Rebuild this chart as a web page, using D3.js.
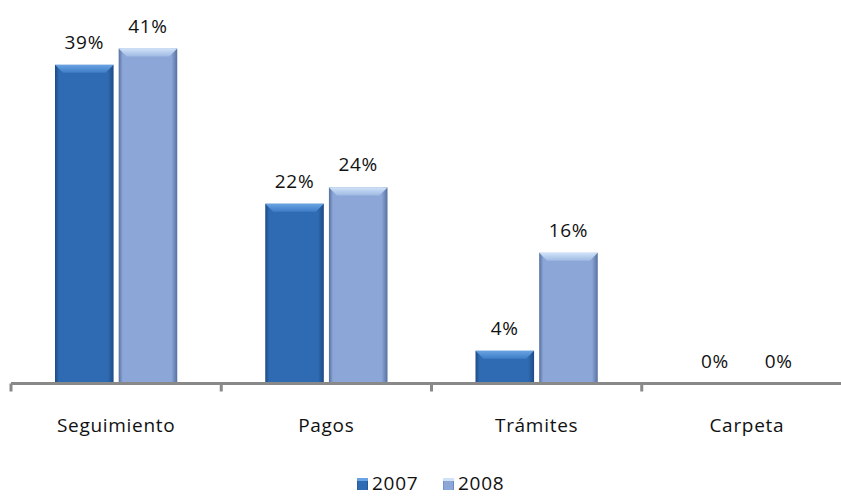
<!DOCTYPE html>
<html>
<head>
<meta charset="utf-8">
<script src="https://cdn.jsdelivr.net/npm/d3@7"></script>
<style>
  body { margin: 0; background: #fff; overflow: hidden; }
  svg text { font-family: "Open Sans", "DejaVu Sans", sans-serif; fill: #111; letter-spacing: 0.7px; }
</style>
</head>
<body>
<svg id="chart"></svg>
<script>
// chart data
const categories = ["Seguimiento", "Pagos", "Trámites", "Carpeta"];
const years = ["2007", "2008"];
const values2007 = [39, 22, 4, 0];
const values2008 = [41, 24, 16, 0];

const width = 841, height = 496;
const axisY = 383.5;

const svg = d3.select("#chart")
    .attr("width", width)
    .attr("height", height);

// gradients for the bevelled bars
const defs = svg.append("defs");
const palettes = {
    "2007": { edge: "#1d4a86", mid: "#2f6bb2", top: "#6aa3e3", topEdge: "#3d7cc6" },
    "2008": { edge: "#56719f", mid: "#8ca6d8", top: "#cfe2f8", topEdge: "#9fb9e2" }
};
years.forEach(yr => {
    const p = palettes[yr];
    const g = defs.append("linearGradient").attr("id", "body" + yr)
        .attr("x1", 0).attr("x2", 1).attr("y1", 0).attr("y2", 0);
    g.append("stop").attr("offset", "0%").attr("stop-color", p.edge);
    g.append("stop").attr("offset", "7%").attr("stop-color", p.mid);
    g.append("stop").attr("offset", "90%").attr("stop-color", p.mid);
    g.append("stop").attr("offset", "100%").attr("stop-color", p.edge);
    const t = defs.append("linearGradient").attr("id", "top" + yr)
        .attr("x1", 0).attr("x2", 0).attr("y1", 0).attr("y2", 1);
    t.append("stop").attr("offset", "0%").attr("stop-color", p.top);
    t.append("stop").attr("offset", "100%").attr("stop-color", p.topEdge);
});

// scales
const x0 = d3.scaleBand()
    .domain(categories)
    .range([11, 852])
    .paddingInner(0)
    .paddingOuter(0);

const x1 = d3.scaleBand()
    .domain(years)
    .range([44, x0.bandwidth() - 44])
    .paddingInner(0.08);

const y = d3.scaleLinear()
    .domain([0, 45])
    .range([axisY, axisY - 45 * 8.17]);

// bar data
const bars = [];
categories.forEach((c, i) => {
    bars.push({ cat: c, year: "2007", value: values2007[i] });
    bars.push({ cat: c, year: "2008", value: values2008[i] });
});

const groups = svg.selectAll(".bar")
    .data(bars)
    .enter()
    .append("g")
    .attr("class", "bar");

// bar bodies
groups.filter(d => d.value > 0)
    .append("rect")
    .attr("x", d => x0(d.cat) + x1(d.year))
    .attr("y", d => y(d.value))
    .attr("width", x1.bandwidth())
    .attr("height", d => axisY - y(d.value))
    .attr("fill", d => "url(#body" + d.year + ")");

// top bevel
groups.filter(d => d.value > 0)
    .append("path")
    .attr("d", d => {
        const bx = x0(d.cat) + x1(d.year), by = y(d.value), bw = x1.bandwidth();
        const bev = Math.min(8, (axisY - by) / 2);
        return `M${bx},${by}L${bx + bw},${by}L${bx + bw - bev},${by + bev}L${bx + bev},${by + bev}Z`;
    })
    .attr("fill", d => "url(#top" + d.year + ")");

// value labels
groups.append("text")
    .attr("x", d => x0(d.cat) + x1(d.year) + x1.bandwidth() / 2)
    .attr("y", d => y(d.value) - 16)
    .attr("text-anchor", "middle")
    .style("font-size", "19px")
    .text(d => d.value + "%");

// category axis
const axis = svg.append("g");
axis.append("line")
    .attr("x1", 11).attr("x2", width)
    .attr("y1", axisY).attr("y2", axisY)
    .attr("stroke", "#898989").attr("stroke-width", 3);
axis.selectAll(".tick")
    .data(categories)
    .enter()
    .append("line")
    .attr("x1", d => x0(d)).attr("x2", d => x0(d))
    .attr("y1", axisY).attr("y2", axisY + 8)
    .attr("stroke", "#898989").attr("stroke-width", 3);
axis.selectAll(".cat")
    .data(categories)
    .enter()
    .append("text")
    .attr("x", d => x0(d) + x0.bandwidth() / 2)
    .attr("y", 432)
    .attr("text-anchor", "middle")
    .style("font-size", "19px")
    .text(d => d);

// legend
const legendX = [357, 443];
const legend = svg.selectAll(".legend")
    .data(years)
    .enter()
    .append("g")
    .attr("transform", (d, i) => `translate(${legendX[i]}, 478)`);
legend.append("rect")
    .attr("width", 11).attr("height", 12)
    .attr("fill", d => "url(#body" + d + ")");
legend.append("rect")
    .attr("width", 11).attr("height", 3)
    .attr("fill", d => palettes[d].top);
legend.append("text")
    .attr("x", 15).attr("y", 12)
    .style("font-size", "19px")
    .text(d => d);
</script>
</body>
</html>
